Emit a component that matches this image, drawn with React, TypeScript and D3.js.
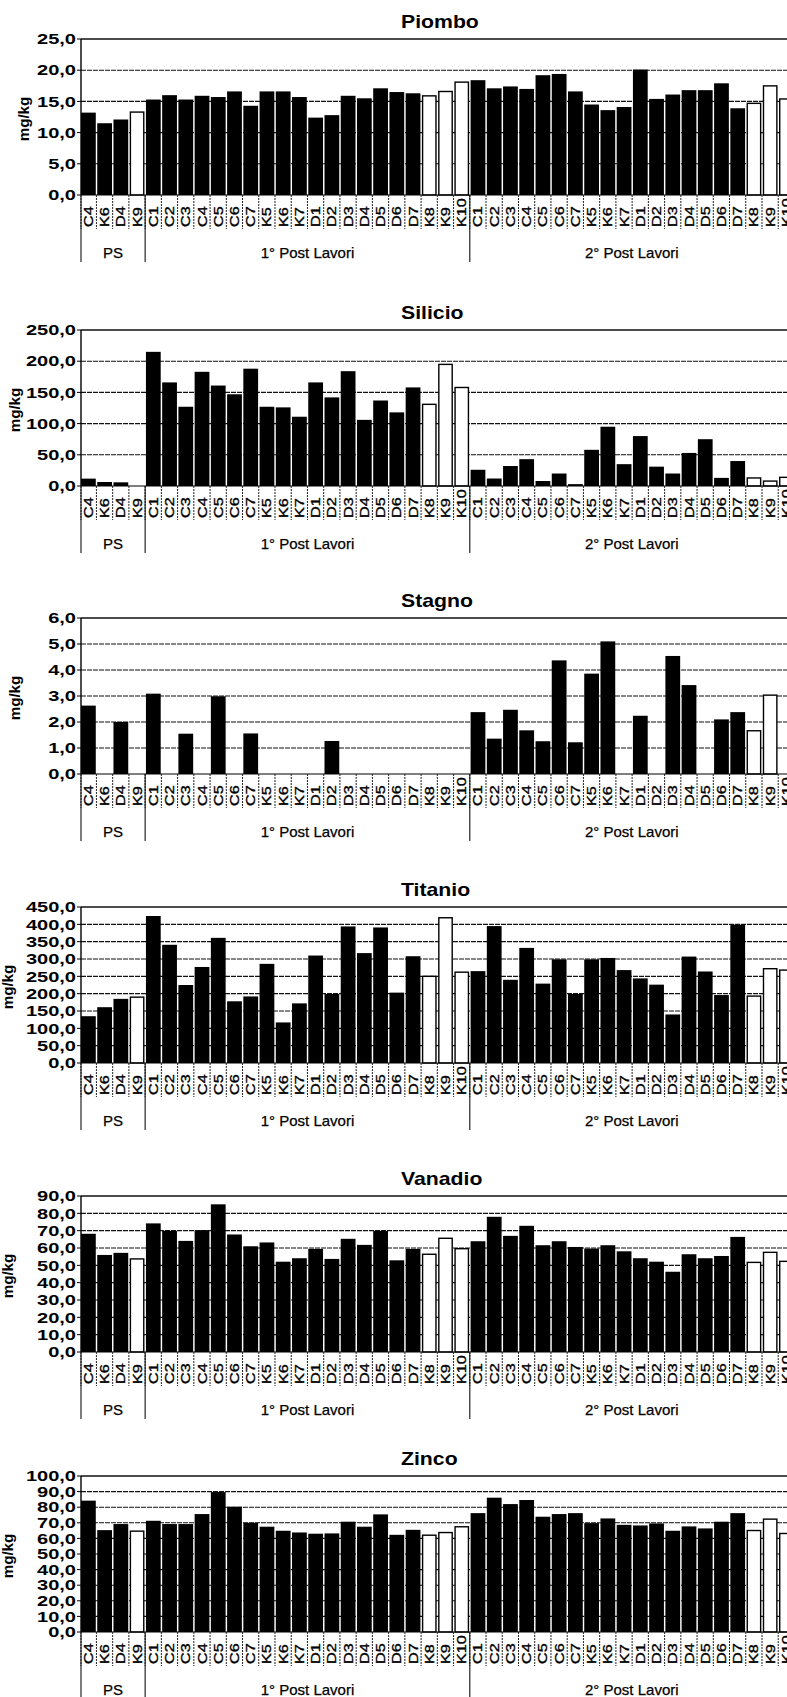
import React from 'react'
import * as d3 from 'd3'

// categories on the x axis, grouped by campaign
const psCodes = ['C4', 'K6', 'D4', 'K9']
const postCodes = ['C1', 'C2', 'C3', 'C4', 'C5', 'C6', 'C7', 'K5', 'K6', 'K7',
  'D1', 'D2', 'D3', 'D4', 'D5', 'D6', 'D7', 'K8', 'K9', 'K10']
const groups = ['PS', '1° Post Lavori', '2° Post Lavori']
const categories = [...psCodes, ...postCodes, ...postCodes]
// these sample points are drawn as white bars
const hollowCodes = ['K8', 'K9', 'K10']
const hollowPs = ['K9']

// values in mg/kg: PS, 1° post, 2° post
const piombo = [
  13.2, 11.5, 12.1, 13.4,
  15.3, 16.0, 15.3, 15.9, 15.7, 16.6, 14.3, 16.6, 16.6, 15.7, 12.4, 12.8, 15.9, 15.5, 17.1, 16.5, 16.3, 16.0, 16.7, 18.2,
  18.4, 17.1, 17.4, 17.0, 19.2, 19.4, 16.6, 14.5, 13.6, 14.1, 20.1, 15.4, 16.1, 16.8, 16.8, 17.9, 13.9, 14.8, 17.6, 15.5,
]
const silicio = [
  11.8, 6.4, 5.9, 0,
  215, 166, 127, 183, 161, 147, 188, 127, 126, 111, 166, 142, 184, 106, 137, 118, 158, 132, 196, 159,
  26, 12, 32, 43, 8, 20, 3, 58, 95, 35, 80, 31, 20, 53, 75, 13, 40, 14, 9, 15,
]
const stagno = [
  2.63, 0, 2.0, 0,
  3.09, 0, 1.55, 0, 2.99, 0, 1.56, 0, 0, 0, 0, 1.27, 0, 0, 0, 0, 0, 0, 0, 0,
  2.38, 1.36, 2.47, 1.68, 1.26, 4.37, 1.22, 3.86, 5.1, 0, 2.24, 0, 4.54, 3.42, 0, 2.1, 2.38, 1.69, 3.06, 0,
]
const titanio = [
  135, 161, 185, 192,
  424, 341, 225, 277, 361, 178, 192, 286, 117, 172, 310, 199, 394, 317, 391, 203, 308, 252, 421, 264,
  265, 395, 240, 332, 229, 299, 199, 299, 303, 268, 244, 226, 140, 307, 264, 196, 399, 195, 274, 270,
]
const vanadio = [
  68.2, 56, 57.2, 54.1,
  74.2, 69.9, 64.1, 70.3, 85.2, 67.8, 61, 63.2, 52.1, 54.1, 59.5, 53.7, 65.3, 61.8, 69.9, 52.9, 59.5, 56.8, 66, 60,
  63.9, 78, 67, 72.8, 61.6, 63.9, 60.6, 59.7, 61.6, 58.1, 54.1, 52.1, 46.3, 56.4, 54.1, 55.4, 66.4, 52.1, 57.9, 52.7,
]
const zinco = [
  84.2, 65.3, 69.2, 65.1,
  71.3, 69.2, 69.2, 75.6, 89.7, 80.3, 70, 67.5, 64.9, 63.8, 63, 63.2, 70.7, 67.5, 75.4, 62.3, 65.5, 62.5, 64.2, 67.9,
  76.2, 86.1, 82, 84.6, 73.9, 75.6, 76.2, 69.8, 72.8, 68.7, 68.3, 69.6, 64.9, 67.7, 66.4, 70.7, 76.2, 65.5, 72.8, 63.6,
]

const titles = ['Piombo', 'Silicio', 'Stagno', 'Titanio', 'Vanadio', 'Zinco']
const series = [piombo, silicio, stagno, titanio, vanadio, zinco]
const axisMax = [25, 250, 6, 450, 90, 100]
const axisStep = [5, 50, 1, 50, 10, 10]

// layout (page pixels)
const plotTops = [39, 330, 618, 907, 1196, 1476]
const unitLabelX = [28.5, 19.5, 20, 13, 12.5, 12.5]
const plotH = 156
const left = 81
const right = 793.8
const font = '"Liberation Sans", Arial, sans-serif'

const fmt = (v: number) => d3.format('.1f')(v).replace('.', ',')

function isHollow(i: number) {
  const code = categories[i]
  return i < psCodes.length ? hollowPs.includes(code) : hollowCodes.includes(code)
}

function Panel({ index }: { index: number }) {
  const top = plotTops[index]
  const bottom = top + plotH
  const values = series[index]

  const x = d3.scaleBand<number>()
    .domain(d3.range(categories.length))
    .range([left, right])
    .paddingInner(0.09)
    .paddingOuter(0)
  const y = d3.scaleLinear().domain([0, axisMax[index]]).range([bottom, top])
  const ticks = d3.range(0, axisMax[index] + axisStep[index] / 2, axisStep[index])

  const sep = (i: number) => (i === 0 ? left : (x(i) as number) - 0.8)
  const boundaries = [0, psCodes.length, psCodes.length + postCodes.length, categories.length]

  return (
    <g>
      <text
        transform={`translate(401,${top - 11}) scale(1.18,1)`}
        fontFamily={font} fontWeight="bold" fontSize={18}
      >
        {titles[index]}
      </text>

      {/* gridlines */}
      {ticks.filter(t => t > 0).map((t, k, arr) => (
        <line key={t} x1={left} x2={right} y1={y(t)} y2={y(t)}
          stroke="#111" strokeWidth={k === arr.length - 1 ? 1.4 : 1.1}
          strokeDasharray={k === arr.length - 1 ? undefined : '5 1'} />
      ))}

      {/* bars */}
      {values.map((v, i) => {
        const hollow = isHollow(i)
        const bx = x(i) as number
        const bw = x.bandwidth()
        if (v <= 0) return null
        return hollow ? (
          <rect key={i} x={bx + 0.7} y={y(v) + 0.7} width={bw - 1.4}
            height={Math.max(0, bottom - y(v) - 0.7)}
            fill="#fff" stroke="#000" strokeWidth={1.4} />
        ) : (
          <rect key={i} x={bx} y={y(v)} width={bw} height={bottom - y(v)} fill="#000" />
        )
      })}

      {/* value axis */}
      <line x1={left} x2={left} y1={top} y2={bottom} stroke="#000" strokeWidth={1.4} />
      <line x1={left} x2={right} y1={bottom} y2={bottom} stroke="#000" strokeWidth={1.2} />
      {ticks.map(t => (
        <g key={t}>
          <line x1={left - 4} x2={left} y1={y(t)} y2={y(t)} stroke="#000" />
          <text
            transform={`translate(76,${y(t)}) scale(1.38,1)`}
            textAnchor="end" dy="0.36em"
            fontFamily={font} fontWeight="bold" fontSize={14.5}
          >
            {fmt(t)}
          </text>
        </g>
      ))}
      <text
        transform={`translate(${unitLabelX[index]},${top + plotH / 2 + 2}) rotate(-90) scale(1.08,1)`}
        textAnchor="middle" fontFamily={font} fontWeight="bold" fontSize={14}
      >
        mg/kg
      </text>

      {/* category labels and separators */}
      {categories.map((c, i) => (
        <g key={i}>
          <line x1={sep(i)} x2={sep(i)} y1={bottom} y2={bottom + 34}
            stroke="#222" strokeWidth={1} strokeDasharray="2 1" />
          <text
            transform={`translate(${(x(i) as number) + x.bandwidth() / 2 + 4.5},${bottom + 32}) rotate(-90) scale(1.3,1)`}
            fontFamily={font} fontSize={12.5} stroke="#000" strokeWidth={0.35}
          >
            {c}
          </text>
        </g>
      ))}

      {/* campaign groups */}
      {groups.map((g, k) => {
        const a = sep(boundaries[k])
        const b = boundaries[k + 1] >= categories.length ? right : sep(boundaries[k + 1])
        return (
          <g key={g}>
            <line x1={a} x2={a} y1={bottom} y2={bottom + 67} stroke="#111" strokeWidth={1.1} />
            <text x={(a + b) / 2} y={bottom + 63} textAnchor="middle"
              fontFamily={font} fontSize={15} stroke="#000" strokeWidth={0.25}>
              {g}
            </text>
          </g>
        )
      })}
    </g>
  )
}

export default function App() {
  return (
    <svg width={787} height={1697} style={{ position: 'absolute', left: 0, top: 0, background: '#fff' }}>
      {titles.map((t, i) => <Panel key={t} index={i} />)}
    </svg>
  )
}
